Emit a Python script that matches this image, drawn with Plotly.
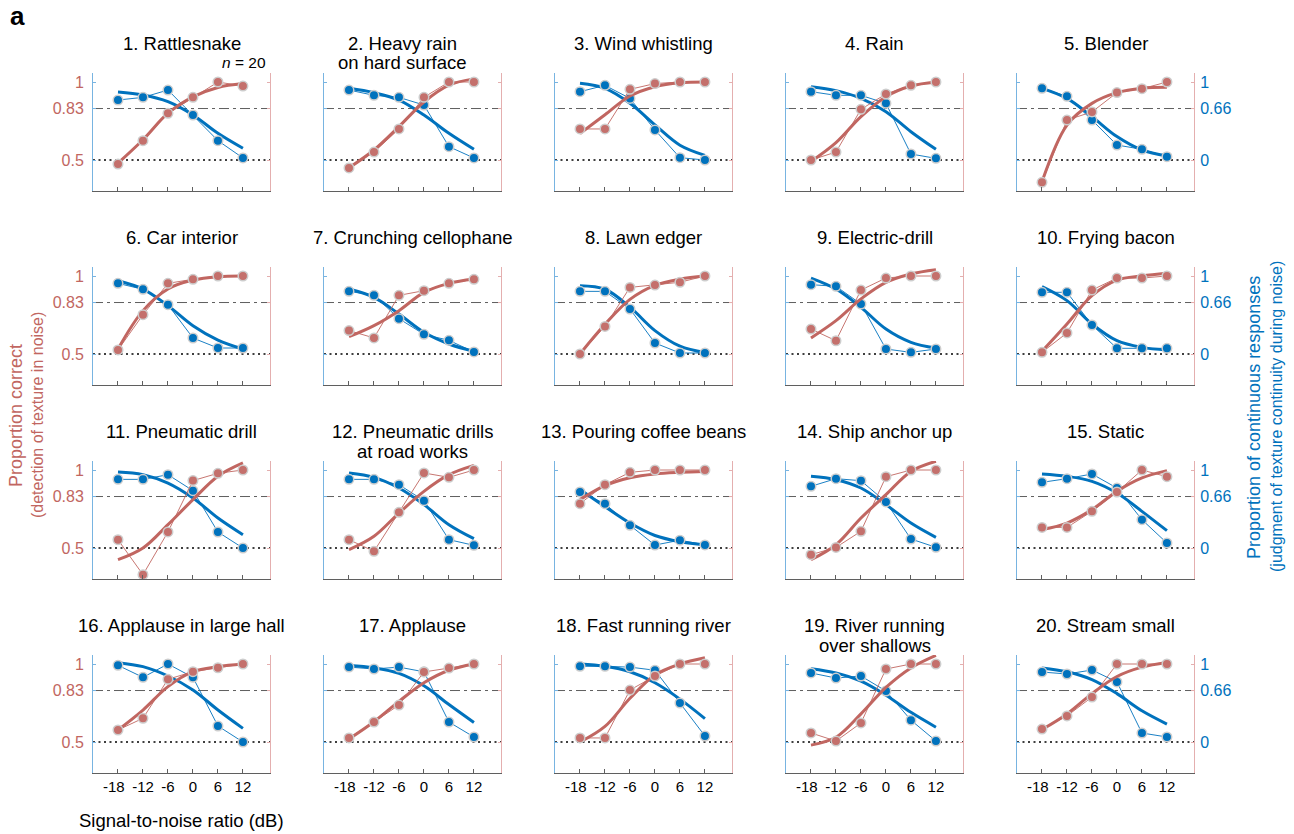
import plotly.graph_objects as go

# Signal-to-noise ratios (dB) at which each texture was tested
snr = [-18, -12, -6, 0, 6, 12]
snr_labels = ["-18\u00a0\u00a0", "-12", "-6", "0", "6", "12"]

titles = [
    ["1. Rattlesnake"], ["2. Heavy rain", "on hard surface"], ["3. Wind whistling"], ["4. Rain"], ["5. Blender"],
    ["6. Car interior"], ["7. Crunching cellophane"], ["8. Lawn edger"], ["9. Electric-drill"], ["10. Frying bacon"],
    ["11. Pneumatic drill"], ["12. Pneumatic drills", "at road works"], ["13. Pouring coffee beans"],
    ["14. Ship anchor up"], ["15. Static"],
    ["16. Applause in large hall"], ["17. Applause"], ["18. Fast running river"],
    ["19. River running", "over shallows"], ["20. Stream small"],
]

# Proportion correct (detection of texture in noise), per texture
correct = [
    [0.474, 0.624, 0.799, 0.902, 1.000, 0.974],
    [0.449, 0.551, 0.699, 0.902, 1.000, 1.000],
    [0.699, 0.699, 0.953, 0.990, 1.000, 1.000],
    [0.500, 0.551, 0.825, 0.923, 0.979, 1.000],
    [0.357, 0.756, 0.808, 0.932, 0.957, 1.000],
    [0.526, 0.752, 0.953, 0.979, 1.000, 1.000],
    [0.650, 0.603, 0.876, 0.906, 0.953, 0.979],
    [0.500, 0.677, 0.927, 0.942, 0.960, 1.000],
    [0.660, 0.585, 0.910, 0.987, 1.000, 1.000],
    [0.511, 0.635, 0.910, 0.987, 0.987, 1.000],
    [0.553, 0.329, 0.603, 0.932, 0.979, 1.000],
    [0.553, 0.479, 0.729, 0.981, 0.953, 1.000],
    [0.784, 0.906, 0.985, 1.000, 1.000, 1.000],
    [0.457, 0.504, 0.607, 0.957, 1.000, 1.000],
    [0.632, 0.632, 0.735, 0.859, 1.000, 0.957],
    [0.577, 0.652, 0.902, 0.951, 0.976, 1.000],
    [0.526, 0.628, 0.737, 0.949, 0.974, 1.000],
    [0.526, 0.526, 0.833, 0.923, 1.000, 1.000],
    [0.558, 0.506, 0.622, 0.968, 1.000, 1.000],
    [0.583, 0.667, 0.788, 1.000, 1.000, 1.000],
]

# Psychometric fit of proportion correct, sampled at the tested SNRs
correct_fit = [
    [0.480, 0.630, 0.800, 0.905, 0.965, 0.990],
    [0.450, 0.564, 0.714, 0.872, 0.980, 1.020],
    [0.670, 0.790, 0.910, 0.970, 0.995, 1.000],
    [0.490, 0.611, 0.778, 0.906, 0.974, 1.000],
    [0.360, 0.724, 0.863, 0.932, 0.960, 0.966],
    [0.532, 0.778, 0.917, 0.974, 0.996, 1.000],
    [0.611, 0.682, 0.778, 0.895, 0.953, 0.981],
    [0.500, 0.690, 0.850, 0.940, 0.980, 1.000],
    [0.603, 0.714, 0.853, 0.959, 1.013, 1.040],
    [0.517, 0.692, 0.874, 0.974, 1.000, 1.017],
    [0.425, 0.500, 0.650, 0.810, 0.960, 1.045],
    [0.489, 0.575, 0.724, 0.863, 0.970, 1.030],
    [0.810, 0.900, 0.950, 0.975, 0.985, 0.990],
    [0.425, 0.521, 0.692, 0.842, 0.991, 1.056],
    [0.618, 0.660, 0.746, 0.863, 0.949, 0.996],
    [0.577, 0.705, 0.855, 0.951, 0.983, 1.000],
    [0.520, 0.630, 0.760, 0.880, 0.960, 1.000],
    [0.500, 0.600, 0.780, 0.930, 1.000, 1.040],
    [0.480, 0.530, 0.680, 0.850, 0.975, 1.055],
    [0.580, 0.680, 0.810, 0.920, 0.980, 1.010],
]

# Proportion of continuous responses (judgment of texture continuity during noise)
continuous = [
    [0.769, 0.803, 0.897, 0.577, 0.248, 0.026],
    [0.897, 0.829, 0.803, 0.705, 0.171, 0.026],
    [0.876, 0.957, 0.790, 0.385, 0.030, 0.000],
    [0.876, 0.829, 0.829, 0.726, 0.077, 0.021],
    [0.919, 0.816, 0.513, 0.192, 0.137, 0.043],
    [0.906, 0.829, 0.632, 0.205, 0.077, 0.077],
    [0.803, 0.752, 0.453, 0.252, 0.175, 0.026],
    [0.803, 0.803, 0.577, 0.141, 0.013, 0.013],
    [0.889, 0.868, 0.641, 0.064, 0.021, 0.064],
    [0.791, 0.791, 0.372, 0.073, 0.073, 0.073],
    [0.880, 0.880, 0.940, 0.735, 0.205, 0.000],
    [0.880, 0.880, 0.812, 0.607, 0.107, 0.034],
    [0.718, 0.568, 0.291, 0.038, 0.100, 0.040],
    [0.791, 0.889, 0.863, 0.590, 0.115, 0.009],
    [0.842, 0.889, 0.949, 0.769, 0.363, 0.064],
    [0.983, 0.829, 1.000, 0.829, 0.205, 0.000],
    [0.960, 0.936, 0.960, 0.900, 0.256, 0.064],
    [0.970, 0.970, 0.960, 0.920, 0.500, 0.077],
    [0.885, 0.820, 0.846, 0.654, 0.280, 0.013],
    [0.897, 0.872, 0.923, 0.770, 0.115, 0.064],
]

# Psychometric fit of continuous responses, sampled at the tested SNRs
continuous_fit = [
    [0.872, 0.833, 0.748, 0.577, 0.342, 0.150],
    [0.919, 0.863, 0.769, 0.577, 0.342, 0.137],
    [0.983, 0.919, 0.727, 0.450, 0.190, 0.060],
    [0.940, 0.889, 0.790, 0.620, 0.363, 0.137],
    [0.919, 0.790, 0.556, 0.300, 0.128, 0.051],
    [0.940, 0.833, 0.620, 0.363, 0.179, 0.064],
    [0.833, 0.726, 0.513, 0.278, 0.128, 0.034],
    [0.876, 0.830, 0.600, 0.300, 0.100, 0.020],
    [0.974, 0.833, 0.598, 0.320, 0.150, 0.077],
    [0.863, 0.684, 0.385, 0.171, 0.085, 0.051],
    [0.974, 0.940, 0.833, 0.641, 0.385, 0.171],
    [0.962, 0.906, 0.769, 0.556, 0.299, 0.120],
    [0.750, 0.530, 0.320, 0.160, 0.080, 0.040],
    [0.919, 0.876, 0.769, 0.556, 0.320, 0.137],
    [0.949, 0.919, 0.855, 0.705, 0.470, 0.222],
    [1.017, 0.966, 0.846, 0.667, 0.410, 0.175],
    [0.980, 0.950, 0.880, 0.720, 0.480, 0.250],
    [1.000, 0.970, 0.900, 0.760, 0.550, 0.300],
    [0.940, 0.885, 0.780, 0.600, 0.380, 0.190],
    [0.950, 0.900, 0.800, 0.620, 0.400, 0.230],
]

correct_ticks = [0.5, 0.83, 1]
correct_labels = ["0.5", "0.83", "1"]
continuous_ticks = [0, 0.66, 1]
continuous_labels = ["0", "0.66", "1"]

# ---- styling ----
W, H = 1294, 834
FONT = "Liberation Sans, Arial, Helvetica, sans-serif"
RED = "rgb(193,102,97)"
RED_MK = "rgb(196,112,108)"
BLUE = "rgb(0,114,189)"
HALO = "rgb(205,205,205)"
LEFT_LINE = "rgb(120,180,225)"
RIGHT_LINE = "rgb(228,175,175)"
AXIS_GRAY = "rgb(95,95,95)"

PANEL_W, PANEL_H = 177, 118
COL0, COL_STEP = 93, 231
ROW0, ROW_STEP = 73, 194
X_RANGE = [-24, 18.5]
RED_RANGE = [0.3013, 1.0577]
BLUE_RANGE = [2 * (v - 0.5) for v in RED_RANGE]
TITLE_NUDGE = {1: -10}   # horizontal title shift (px) by panel index


def px_x(x):
    return x / W


def px_y(y):
    return 1 - y / H


fig = go.Figure()
layout = dict(
    width=W, height=H, autosize=False,
    margin=dict(l=0, r=0, t=0, b=0),
    paper_bgcolor="white", plot_bgcolor="white",
    showlegend=False,
    font=dict(family=FONT, size=16, color="black"),
)
shapes, annotations = [], []

for i in range(20):
    k = i + 1
    r, c = divmod(i, 5)
    left = COL0 + COL_STEP * c
    top = ROW0 + ROW_STEP * r
    xd = [px_x(left), px_x(left + PANEL_W)]
    yd = [px_y(top + PANEL_H), px_y(top)]

    sfx = "" if k == 1 else str(k)
    xa, yb, yr = f"x{sfx}", f"y{sfx}", f"y{k + 20}"

    layout[f"xaxis{sfx}"] = dict(
        domain=xd, anchor=yb, range=X_RANGE,
        tickvals=snr, ticktext=snr_labels, tickangle=0,
        showline=True, linecolor=AXIS_GRAY, linewidth=1,
        ticks="inside", ticklen=4, tickcolor=AXIS_GRAY,
        showgrid=False, zeroline=False,
        showticklabels=(r == 3), tickfont=dict(size=15, color="black"),
        ticklabelstandoff=0,
        fixedrange=True,
    )
    # continuity scale (right side)
    layout[f"yaxis{sfx}"] = dict(
        domain=yd, anchor=xa, side="right", range=BLUE_RANGE,
        tickvals=continuous_ticks, ticktext=continuous_labels,
        showline=True, linecolor=RIGHT_LINE, linewidth=1,
        ticks="inside", ticklen=3, tickcolor=RIGHT_LINE,
        showgrid=False, zeroline=False,
        showticklabels=(c == 4), tickfont=dict(size=16, color=BLUE),
        ticklabelstandoff=2,
        fixedrange=True,
    )
    # detection scale (left side), drawn on top
    layout[f"yaxis{k + 20}"] = dict(
        anchor=xa, overlaying=yb, side="left", range=RED_RANGE,
        tickvals=correct_ticks, ticktext=correct_labels,
        showline=True, linecolor=LEFT_LINE, linewidth=1,
        ticks="inside", ticklen=3, tickcolor=LEFT_LINE,
        showgrid=False, zeroline=False,
        showticklabels=(c == 0), tickfont=dict(size=16, color=RED),
        ticklabelstandoff=5,
        fixedrange=True,
    )

    # threshold lines
    xdom = f"{xa} domain"
    shapes.append(dict(type="line", xref=xdom, yref=yr, x0=0, x1=1, y0=0.83, y1=0.83,
                       line=dict(color=AXIS_GRAY, width=1, dash="10px,4px,3px,4px"),
                       layer="below"))
    shapes.append(dict(type="line", xref=xdom, yref=yr, x0=0, x1=1, y0=0.5, y1=0.5,
                       line=dict(color="black", width=1.6, dash="2px,3.5px"),
                       layer="below"))

    # continuity: fit + data
    fig.add_trace(go.Scatter(x=snr, y=continuous_fit[i], xaxis=xa, yaxis=yb, mode="lines",
                             line=dict(color=BLUE, width=3, shape="spline", smoothing=1.0),
                             hoverinfo="skip"))
    fig.add_trace(go.Scatter(x=snr, y=continuous[i], xaxis=xa, yaxis=yb, mode="lines+markers",
                             line=dict(color=BLUE, width=0.9),
                             marker=dict(size=9.5, color=BLUE, line=dict(color=HALO, width=1.5))))
    # detection: fit + data
    fig.add_trace(go.Scatter(x=snr, y=correct_fit[i], xaxis=xa, yaxis=yr, mode="lines",
                             line=dict(color=RED, width=3, shape="spline", smoothing=1.0),
                             hoverinfo="skip"))
    fig.add_trace(go.Scatter(x=snr, y=correct[i], xaxis=xa, yaxis=yr, mode="lines+markers",
                             line=dict(color=RED, width=0.9),
                             marker=dict(size=9.5, color=RED_MK, line=dict(color=HALO, width=1.5))))

    cx = left + PANEL_W / 2 + TITLE_NUDGE.get(i, 0)
    for j, line in enumerate(titles[i]):
        annotations.append(dict(text=line, xref="paper", yref="paper",
                                x=px_x(cx), y=px_y(43 + 20 * j + ROW_STEP * r),
                                xanchor="center", yanchor="middle", showarrow=False,
                                font=dict(size=18.5, color="black", family=FONT)))

# sample size note
annotations.append(dict(text="<i>n</i> = 20", xref="paper", yref="paper",
                        x=px_x(268), y=px_y(63), xanchor="right", yanchor="middle",
                        showarrow=False, font=dict(size=15.5, color="black")))
# panel letter
annotations.append(dict(text="<b>a</b>", xref="paper", yref="paper",
                        x=px_x(8), y=px_y(16), xanchor="left", yanchor="middle",
                        showarrow=False, font=dict(size=26, color="black")))
# axis titles
annotations.append(dict(text="Proportion correct", xref="paper", yref="paper",
                        x=px_x(16), y=px_y(416), xanchor="center", yanchor="middle",
                        textangle=-90, showarrow=False, font=dict(size=18, color=RED)))
annotations.append(dict(text="(detection of texture in noise)", xref="paper", yref="paper",
                        x=px_x(37), y=px_y(415), xanchor="center", yanchor="middle",
                        textangle=-90, showarrow=False, font=dict(size=16, color=RED)))
annotations.append(dict(text="Proportion of continuous responses", xref="paper", yref="paper",
                        x=px_x(1254), y=px_y(418), xanchor="center", yanchor="middle",
                        textangle=-90, showarrow=False, font=dict(size=18, color=BLUE)))
annotations.append(dict(text="(judgment of texture continuity during noise)", xref="paper", yref="paper",
                        x=px_x(1276), y=px_y(417), xanchor="center", yanchor="middle",
                        textangle=-90, showarrow=False, font=dict(size=16, color=BLUE)))
annotations.append(dict(text="Signal-to-noise ratio (dB)", xref="paper", yref="paper",
                        x=px_x(77), y=px_y(820), xanchor="left", yanchor="middle",
                        showarrow=False, font=dict(size=18.5, color="black")))

layout["shapes"] = shapes
layout["annotations"] = annotations
fig.update_layout(**layout)
fig.write_html("out.html")
